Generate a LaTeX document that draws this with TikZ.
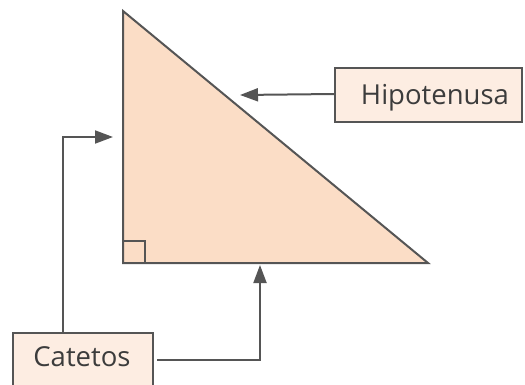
\documentclass[tikz,border=0pt]{standalone}
\usepackage{fontspec}
\setmainfont{Open Sans}
\usetikzlibrary{arrows.meta}
\definecolor{edge}{HTML}{555555}
\definecolor{tri}{HTML}{FBDDC6}
\definecolor{boxfill}{HTML}{FDEDE2}
\definecolor{txt}{HTML}{3C3C3C}
\begin{document}
\begin{tikzpicture}[x=1pt,y=-1pt,
  lbl/.style={draw=edge,line width=2pt,fill=boxfill},
  lbltext/.style={text=txt,font=\fontsize{27.5pt}{30pt}\selectfont,inner sep=0pt,anchor=base},
  conn/.style={draw=edge,line width=2pt,-{Triangle[length=18pt,width=13pt]}}]
\useasboundingbox (0,0) rectangle (525,385);
\clip (0,0) rectangle (525,385);
\coordinate (A) at (123,11);
\coordinate (B) at (123,263);
\coordinate (C) at (428,263);
\filldraw[fill=tri,draw=edge,line width=2pt,line join=miter] (A) -- (B) -- (C) -- cycle;
\draw[edge,line width=2pt] (123,241) -| (145,263);
\draw[lbl] (335,68) rectangle (522,122);
\node[lbltext] (hyp) at (435,105) {Hipotenusa};
\draw[lbl] (13,333) rectangle (153,400);
\node[lbltext] (cat) at (82,366) {Catetos};
\coordinate (hw) at (335,94);
\coordinate (ct) at (63,333);
\coordinate (ce) at (157,360);
\coordinate (h1) at (240,95);
\coordinate (c1) at (113,137);
\coordinate (c2) at (260,265);
\draw[conn] (hw) -- (h1);
\draw[conn] (ct) |- (c1);
\draw[conn] (ce) -| (c2);
\end{tikzpicture}
\end{document}
